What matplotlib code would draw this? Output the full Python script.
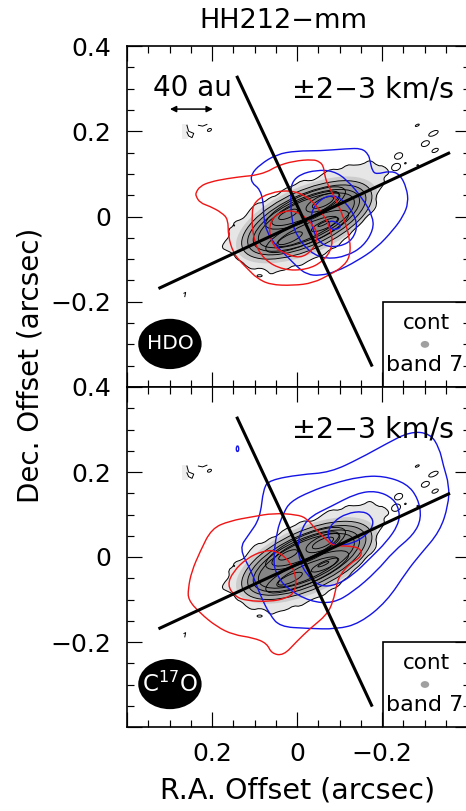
import matplotlib
matplotlib.use("Agg")
import matplotlib.pyplot as plt
from matplotlib.path import Path
from matplotlib.patches import PathPatch, Ellipse, Rectangle
from matplotlib.ticker import MultipleLocator

plt.rcParams["font.family"] = ["DejaVu Sans"]
plt.rcParams["mathtext.default"] = "regular"

# all contours are (RA, Dec) offsets in mas
cont_outer = [(177, -74), (167, -79), (150, -87), (142, -101), (130, -105), (118, -118), (103, -125),
              (88, -120), (71, -126), (62, -137), (45, -128), (24, -125), (8, -114), (-7, -117),
              (-25, -105), (-46, -95), (-62, -92), (-78, -76), (-95, -72), (-109, -54), (-120, -48),
              (-132, -32), (-150, -18), (-164, 1), (-178, 10), (-189, 28), (-184, 45), (-195, 64),
              (-207, 79), (-203, 92), (-220, 103), (-203, 120), (-190, 118), (-172, 134), (-155, 122),
              (-132, 120), (-118, 122), (-101, 109), (-80, 112), (-62, 101), (-45, 88), (-31, 83),
              (-12, 86), (9, 71), (30, 66), (48, 48), (62, 46), (79, 32), (95, 32), (111, 16),
              (120, 2), (130, -7), (148, -12), (150, -23), (162, -30), (158, -46), (173, -62)]

# centre RA, centre Dec, semi major, semi minor (mas), grey fill (None = line only)
cont_ell = [(-23, -8, 179, 78, 0.80, False),
            (-23, -8, 165, 69, 0.68, True),
            (-23, -8, 150, 60, 0.60, True),
            (-22, -9, 135, 52, 0.55, True),
            (-22, -9, 122, 45, 0.52, True),
            (-20, 20, 102, 30, None, True),
            (-20, 19, 86, 22, None, True),
            (-24, -35, 106, 27, None, True),
            (-24, -35, 78, 17, None, True),
            (-61, 33, 43, 16, None, True),
            (-61, 33, 27, 9, None, True),
            (21, 5, 24, 8, None, True),
            (16, -51, 31, 9, None, True),
            (-66, -19, 35, 9, None, True),
            (-62, -17, 14, 3, None, True)]

red_hdo = [
    [(238, 56), (228, 71), (205, 81), (165, 89), (118, 95), (103, 96), (71, 104), (48, 118), (9, 130),
     (-38, 134), (-54, 128), (-62, 118), (-64, 103), (-70, 79), (-85, 52), (-109, 1), (-125, -54),
     (-125, -93), (-109, -117), (-78, -136), (-38, -156), (9, -162), (64, -160), (95, -144), (114, -125),
     (134, -105), (150, -85), (162, -46), (162, -7), (177, 9), (205, 24), (228, 32), (238, 48)],
    [(107, 9), (99, 36), (64, 56), (16, 62), (-23, 48), (-54, 16), (-78, -23), (-85, -70), (-62, -105),
     (-23, -125), (32, -126), (79, -101), (103, -54)],
    [(67, -31), (56, 1), (24, 15), (-7, 9), (-38, -19), (-50, -46), (-38, -78), (-7, -99), (32, -85), (56, -70)],
]
blue_hdo = [
    [(107, 79), (108, 99), (87, 122), (48, 146), (1, 154), (-54, 154), (-117, 159), (-152, 160), (-168, 146),
     (-172, 130), (-177, 107), (-187, 99), (-219, 107), (-242, 99), (-258, 67), (-262, 32), (-250, 1),
     (-227, -31), (-187, -74), (-140, -105), (-93, -129), (-54, -139), (-23, -136), (1, -117), (24, -93),
     (48, -70), (71, -38), (79, 1), (79, 32), (87, 64)],
    [(13, 79), (-7, 99), (-46, 109), (-85, 107), (-117, 87), (-156, 40), (-178, 1), (-180, -31), (-156, -70),
     (-117, -93), (-70, -100), (-31, -85), (1, -46), (13, -7), (15, 48)],
    [(-31, 9), (-54, 40), (-85, 52), (-117, 32), (-144, -15), (-132, -54), (-101, -71), (-62, -70), (-38, -38)],
    [(-74, -11), (-89, -11), (-105, -23), (-93, -31), (-78, -29)],
]
red_c17o = [
    [(256, -74), (248, -34), (228, 13), (201, 67), (158, 85), (103, 95), (56, 103), (1, 100), (-23, 91),
     (-42, 67), (-70, 40), (-85, 26), (-125, 26), (-150, 20), (-152, 1), (-125, -15), (-101, -42), (-93, -66),
     (-85, -105), (-70, -136), (-31, -168), (1, -199), (32, -232), (60, -227), (71, -203), (103, -190),
     (150, -183), (189, -164), (228, -132), (256, -101)],
    [(164, -66), (150, -34), (118, -3), (79, 15), (48, 15), (16, -11), (1, -50), (5, -82), (24, -97),
     (64, -105), (118, -103), (146, -93)],
]
blue_c17o = [
    [(136, 20), (114, 52), (87, 91), (79, 162), (64, 181), (-7, 194), (-78, 199), (-148, 232), (-211, 267),
     (-266, 295), (-313, 291), (-335, 256), (-344, 216), (-358, 169), (-356, 122), (-336, 60), (-289, 5),
     (-258, -34), (-211, -105), (-148, -156), (-93, -170), (-23, -168), (40, -164), (64, -136), (87, -89), (107, -34)],
    [(56, -11), (48, 60), (32, 103), (16, 130), (-31, 154), (-85, 173), (-148, 189), (-203, 191), (-258, 173),
     (-285, 138), (-293, 91), (-274, 52), (-227, 13), (-187, -34), (-132, -82), (-85, -109), (-31, -105),
     (24, -74), (48, -42)],
    [(-1, 28), (-11, 67), (-31, 95), (-78, 118), (-140, 150), (-187, 156), (-227, 138), (-242, 107), (-238, 75),
     (-211, 36), (-172, -3), (-132, -42), (-93, -66), (-54, -70), (-23, -42), (-7, -11)],
    [(-71, 56), (-85, 83), (-117, 103), (-156, 108), (-176, 95), (-180, 75), (-164, 52), (-132, 32), (-93, 26), (-78, 36)],
    [(140, 264), (136, 254), (140, 246), (144, 254)],
]

# small isolated continuum islands
islands = [(-283, 214), (-321, 195), (-302, 171), (-325, 155), (-239, 142), (-233, 116), (-255, 125), (-284, 120), (206, 203)]
island_size = [(10, 4), (24, 10), (20, 12), (16, 8), (20, 14), (22, 16), (4, 3), (4, 3), (10, 6)]
scribble_1 = [(259, 214), (255, 200), (243, 195), (247, 185), (255, 189), (259, 198)]
scribble_2 = [(232, 214), (222, 212), (212, 216)]
scribble_3 = [(266, -180), (262, -178), (264, -188)]

pv_major = [(326, -169), (-360, 150)]
pv_minor = [(142, 330), (-177, -352)]

ra_ticks = [0.2, 0, -0.2]
ra_labels = ["0.2", "0", "\u22120.2"]
dec_ticks = [0.4, 0.2, 0, -0.2]
dec_labels = ["0.4", "0.2", "0", "\u22120.2"]


def smooth_patch(pts, color, lw, z):
    # quadratic curves through the midpoints, so the contours look round
    pts = [(p[0] / 1000, p[1] / 1000) for p in pts]
    n = len(pts)
    verts = [((pts[-1][0] + pts[0][0]) / 2, (pts[-1][1] + pts[0][1]) / 2)]
    codes = [Path.MOVETO]
    for i in range(n):
        nxt = pts[(i + 1) % n]
        verts += [pts[i], ((pts[i][0] + nxt[0]) / 2, (pts[i][1] + nxt[1]) / 2)]
        codes += [Path.CURVE3, Path.CURVE3]
    return PathPatch(Path(verts, codes), facecolor="none", edgecolor=color, lw=lw, zorder=z)


def draw_panel(ax, reds, blues, name, name_size):
    ax.set_xlim(0.4, -0.407)
    ax.set_ylim(-0.4, 0.4)

    # continuum
    ax.add_patch(Rectangle((0.256, 0.181), 0.014, 0.035, fc="0.93", ec="none", zorder=1))
    ax.add_patch(smooth_patch(cont_outer, "black", 0.7, 3))
    fill = smooth_patch(cont_outer, "none", 0, 1)
    fill.set_facecolor("0.9")
    ax.add_patch(fill)
    for cx, cy, a, b, grey, line in cont_ell:
        ax.add_patch(Ellipse((cx / 1000, cy / 1000), 2 * a / 1000, 2 * b / 1000, angle=-24,
                             facecolor=str(grey) if grey else "none",
                             edgecolor="black" if line else "none", lw=0.65, zorder=2 if grey else 3))
    for (ix, iy), (w, h) in zip(islands, island_size):
        ax.add_patch(Ellipse((ix / 1000, iy / 1000), w / 1000, h / 1000, angle=-25,
                             fc="none", ec="black", lw=0.7, zorder=3))
    ax.add_patch(Ellipse((0.088, -0.139), 0.012, 0.005, fc="none", ec="black", lw=0.7, zorder=3))
    ax.add_patch(Ellipse((0.148, -0.021), 0.003, 0.003, fc="black", ec="black", lw=0.5, zorder=3))
    for s in [scribble_1, scribble_2, scribble_3]:
        ax.plot([q[0] / 1000 for q in s], [q[1] / 1000 for q in s], color="black", lw=0.7, zorder=3)

    for c in blues:
        ax.add_patch(smooth_patch(c, "#1414e6", 1.0, 4))
    for c in reds:
        ax.add_patch(smooth_patch(c, "#f01414", 1.0, 4))

    for seg in [pv_major, pv_minor]:
        ax.plot([q[0] / 1000 for q in seg], [q[1] / 1000 for q in seg], color="black", lw=2.2,
                solid_capstyle="butt", zorder=5)

    ax.text(-0.179, 0.299, "\u00b12\u22123 km/s", fontsize=20.5, ha="center", va="center", zorder=7)

    # beam ellipse with molecule name
    ax.add_patch(Ellipse((0.299, -0.299), 0.149, 0.118, fc="black", ec="none", zorder=6))
    ax.text(0.299, -0.299, name, color="white", fontsize=name_size, ha="center", va="center", zorder=7)

    # continuum inset, kept under the tick marks
    ax.add_patch(Rectangle((-0.202, -0.42), -0.22, 0.22, fc="white", ec="black", lw=1.2, zorder=2.2))
    ax.text(-0.304, -0.249, "cont", fontsize=15.5, ha="center", va="center", zorder=7)
    ax.add_patch(Ellipse((-0.301, -0.3), 0.02, 0.016, fc="#a0a0a0", ec="none", zorder=7))
    ax.text(-0.301, -0.348, "band 7", fontsize=16, ha="center", va="center", zorder=7)

    ax.xaxis.set_minor_locator(MultipleLocator(0.05))
    ax.yaxis.set_minor_locator(MultipleLocator(0.05))
    ax.set_xticks([0.4, 0.2, 0, -0.2, -0.4])
    ax.tick_params(which="major", direction="in", top=True, right=True, length=10.8, width=0.85, labelsize=18, pad=11)
    ax.tick_params(which="minor", direction="in", top=True, right=True, length=5, width=0.85)
    ax.set_axisbelow(False)
    for sp in ax.spines.values():
        sp.set_linewidth(1.2)
        sp.set_zorder(8)
    ax.set_xticklabels([])
    ax.set_yticks(dec_ticks + [-0.4])
    ax.set_yticklabels(dec_labels + [""])


fig = plt.figure(figsize=(4.66, 8.11), dpi=100)
ax1 = fig.add_axes([127 / 466, (811 - 387) / 811, 343 / 466, 341 / 811])
ax2 = fig.add_axes([127 / 466, (811 - 727) / 811, 343 / 466, 340 / 811])

draw_panel(ax1, red_hdo, blue_hdo, "HDO", 14.5)
draw_panel(ax2, red_c17o, blue_c17o, r"C$^{17}$O", 16.5)

ax2.set_xticks([0.4] + ra_ticks + [-0.4])
ax2.set_xticklabels([""] + ra_labels + [""])

# 40 au scale bar
ax1.text(0.247, 0.301, "40 au", fontsize=20, ha="center", va="center", zorder=7)
ax1.annotate("", xy=(0.299, 0.252), xytext=(0.198, 0.252),
             arrowprops=dict(arrowstyle="<|-|>", color="black", lw=1.1, mutation_scale=9, shrinkA=0, shrinkB=0))

fig.text(283 / 466, 1 - 21 / 811, "HH212\u2212mm", fontsize=19.5, ha="center", va="center")
fig.text(298 / 466, 1 - 791 / 811, "R.A. Offset (arcsec)", fontsize=20.5, ha="center", va="center")
fig.text(31 / 466, 1 - 365 / 811, "Dec. Offset (arcsec)", fontsize=20, rotation=90, ha="center", va="center")

fig.savefig("out.png", dpi=100)
